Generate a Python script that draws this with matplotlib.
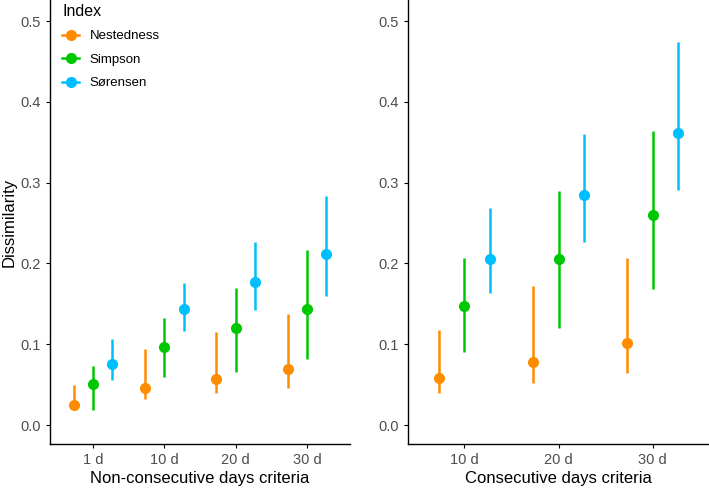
import numpy as np
import matplotlib
matplotlib.use("Agg")
import matplotlib.pyplot as plt
from matplotlib.lines import Line2D

plt.rcParams["font.family"] = ["Liberation Sans", "DejaVu Sans"]

indices = ["Nestedness", "Simpson", "Sørensen"]
colors = {"Nestedness": "#FF8C00", "Simpson": "#00C800", "Sørensen": "#00BFFF"}

# non-consecutive days criteria
nc_labels = ["1 d", "10 d", "20 d", "30 d"]
nc_mean = {
    "Nestedness": [0.025, 0.046, 0.057, 0.069],
    "Simpson": [0.051, 0.097, 0.120, 0.143],
    "Sørensen": [0.076, 0.143, 0.177, 0.212],
}
nc_low = {
    "Nestedness": [0.018, 0.032, 0.039, 0.046],
    "Simpson": [0.019, 0.059, 0.065, 0.082],
    "Sørensen": [0.056, 0.116, 0.142, 0.160],
}
nc_high = {
    "Nestedness": [0.050, 0.094, 0.115, 0.137],
    "Simpson": [0.073, 0.132, 0.170, 0.216],
    "Sørensen": [0.106, 0.176, 0.227, 0.283],
}

# consecutive days criteria
c_labels = ["10 d", "20 d", "30 d"]
c_mean = {
    "Nestedness": [0.058, 0.078, 0.102],
    "Simpson": [0.147, 0.206, 0.260],
    "Sørensen": [0.205, 0.285, 0.362],
}
c_low = {
    "Nestedness": [0.039, 0.052, 0.064],
    "Simpson": [0.090, 0.120, 0.168],
    "Sørensen": [0.163, 0.226, 0.291],
}
c_high = {
    "Nestedness": [0.118, 0.172, 0.207],
    "Simpson": [0.207, 0.290, 0.364],
    "Sørensen": [0.268, 0.360, 0.474],
}

dodge = 0.27
tick_color = "#4D4D4D"


def draw_panel(ax, labels, mean, low, high, xlabel):
    x = np.arange(1, len(labels) + 1)
    for i, name in enumerate(indices):
        xs = x + (i - 1) * dodge
        m = np.array(mean[name])
        lo = np.array(low[name])
        hi = np.array(high[name])
        ax.vlines(xs, lo, hi, color=colors[name], lw=1.8)
        ax.plot(xs, m, "o", color=colors[name], ms=8, mec="none")
    ax.set_xticks(x)
    ax.set_xticklabels(labels)
    ax.set_xlim(0.4, len(labels) + 0.6)
    ax.set_ylim(-0.0235, 0.526)
    ax.set_yticks([0.0, 0.1, 0.2, 0.3, 0.4, 0.5])
    ax.set_yticklabels(["0.0", "0.1", "0.2", "0.3", "0.4", "0.5"])
    ax.spines["top"].set_visible(False)
    ax.spines["right"].set_visible(False)
    ax.spines["left"].set_linewidth(1.0)
    ax.spines["bottom"].set_linewidth(1.0)
    ax.tick_params(labelcolor=tick_color, labelsize=10.5, length=3, width=0.8,
                   color="black")
    ax.set_xlabel(xlabel, fontsize=12, labelpad=3)


fig = plt.figure(figsize=(7.09, 4.88), dpi=100)
ax1 = fig.add_axes([50 / 709, 44 / 488, 300 / 709, 444 / 488])
ax2 = fig.add_axes([408 / 709, 44 / 488, 301 / 709, 444 / 488])

draw_panel(ax1, nc_labels, nc_mean, nc_low, nc_high, "Non-consecutive days criteria")
draw_panel(ax2, c_labels, c_mean, c_low, c_high, "Consecutive days criteria")
ax1.set_ylabel("Dissimilarity", fontsize=12, labelpad=3)

handles = [Line2D([], [], color=colors[n], lw=1.8, marker="o", ms=8, mec="none")
           for n in indices]
leg = ax1.legend(handles, indices, title="Index", loc="upper left",
                 bbox_to_anchor=(0.027, 1.0), borderaxespad=0.1, borderpad=0.2,
                 frameon=False, fontsize=9.5, title_fontsize=11.5,
                 handlelength=1.3, labelspacing=0.85, handletextpad=0.8)
leg._legend_box.align = "left"

fig.savefig("out.png", dpi=100)
